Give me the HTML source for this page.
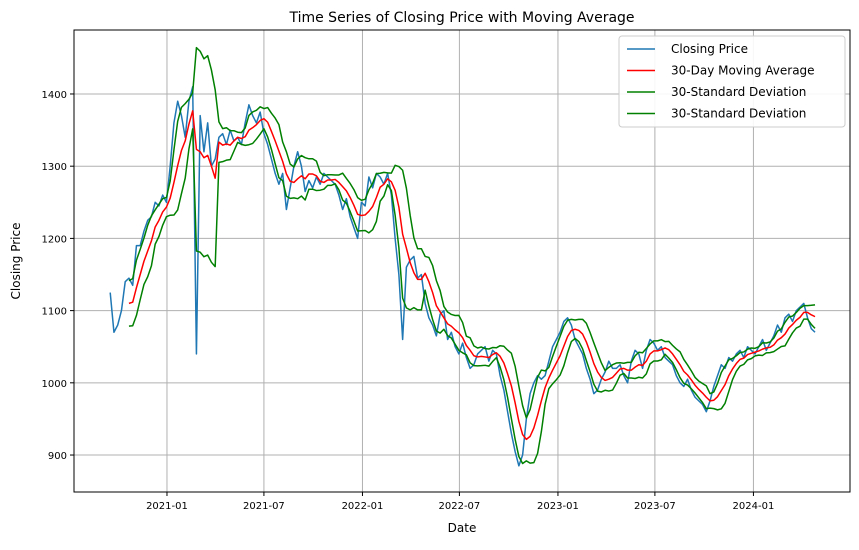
<!DOCTYPE html>
<html><head><meta charset="utf-8"><style>
body{margin:0;background:#fff;font-family:"Liberation Sans","DejaVu Sans",sans-serif}
svg text{font-family:"DejaVu Sans","Liberation Sans",sans-serif}
</style></head><body>
<svg id="chart" width="859" height="545" xmlns="http://www.w3.org/2000/svg"></svg>
<script>
const startDate = "2020-09-17";
const closePrices = [1125,1070,1080,1100,1140,1145,1135,1190,1190,1210,
1225,1230,1250,1245,1260,1250,1300,1360,1390,1370,
1340,1390,1410,1040,1370,1320,1360,1300,1310,1340,
1345,1330,1350,1335,1340,1330,1360,1385,1370,1360,
1375,1345,1330,1310,1290,1275,1290,1240,1270,1300,
1320,1300,1265,1280,1270,1285,1275,1290,1285,1280,
1275,1260,1240,1255,1230,1215,1200,1250,1245,1285,
1270,1290,1285,1275,1290,1260,1200,1150,1060,1160,
1170,1175,1145,1150,1110,1090,1080,1065,1095,1100,
1060,1070,1050,1040,1055,1035,1020,1025,1040,1045,
1050,1030,1045,1040,1010,990,960,930,905,885,
900,950,985,1000,1010,1005,1010,1030,1050,1060,
1070,1085,1090,1080,1060,1050,1040,1020,1005,985,
990,1005,1015,1030,1020,1020,1025,1010,1000,1030,
1045,1040,1020,1045,1060,1055,1045,1050,1035,1030,
1025,1010,1000,995,1005,990,980,975,970,960,
975,995,1010,1025,1020,1035,1030,1040,1045,1035,
1050,1045,1040,1050,1060,1045,1055,1065,1080,1070,
1090,1095,1085,1100,1105,1110,1090,1075,1070];
const windowSize = 6;
const yTicks = [900,1000,1100,1200,1300,1400];
const xTickLabels = ["2021-01","2021-07","2022-01","2022-07","2023-01","2023-07","2024-01"];

const svg = document.getElementById('chart');
const NS = "http://www.w3.org/2000/svg";
const L=74,R=850,T=30,B=492;
const day0 = Date.parse("2021-01-01");
const xMinDays=-173.6, xMaxDays=1275.3;
const yMin=848.8, yMax=1488.6;
function xs(ms){const d=(ms-day0)/86400000;return L+(d-xMinDays)/(xMaxDays-xMinDays)*(R-L);}
function ys(v){return B-(v-yMin)/(yMax-yMin)*(B-T);}
function mk(tag,attrs,parent){const e=document.createElementNS(NS,tag);for(const k in attrs)e.setAttribute(k,attrs[k]);(parent||svg).appendChild(e);return e;}

const t0=Date.parse(startDate);
const dates=closePrices.map((_,i)=>t0+i*7*86400000);
const ma=[],up=[],lo=[];
for(let i=0;i<closePrices.length;i++){
  if(i<windowSize-1){ma.push(null);up.push(null);lo.push(null);continue;}
  const w=closePrices.slice(i-windowSize+1,i+1);
  const m=w.reduce((a,b)=>a+b,0)/w.length;
  const s=Math.sqrt(w.reduce((a,b)=>a+(b-m)*(b-m),0)/(w.length-1));
  ma.push(m);up.push(m+s);lo.push(m-s);
}

// grid
const grid=mk('g',{});


yTicks.forEach(v=>{
  const y=ys(v);
  const gl=mk('line',{x1:L,x2:R,y1:y,y2:y,stroke:'#b0b0b0','stroke-width':1},grid);
  
  
  mk('line',{x1:L-4,x2:L,y1:y,y2:y,stroke:'#000'});
  const t=mk('text',{x:L-7,y:y+4,'text-anchor':'end','font-size':10});
  t.textContent=v;
  
  
});
xTickLabels.forEach(lbl=>{
  const x=xs(Date.parse(lbl+"-01"));
  const gl=mk('line',{x1:x,x2:x,y1:T,y2:B,stroke:'#b0b0b0','stroke-width':1},grid);
  
  
  mk('line',{x1:x,x2:x,y1:B,y2:B+4,stroke:'#000'});
  const t=mk('text',{x:x,y:B+17,'text-anchor':'middle','font-size':10});
  t.textContent=lbl;
  
  
});

function line(vals,color,name,w){
  let d='';let started=false;
  vals.forEach((v,i)=>{if(v==null)return;d+=(started?'L':'M')+xs(dates[i]).toFixed(2)+','+ys(v).toFixed(2);started=true;});
  const p=mk('path',{d:d,fill:'none',stroke:color,'stroke-width':w||1.5,'stroke-linejoin':'round'});
  
  
}
line(closePrices,'#1f77b4','closing-price-line');
line(ma,'#ff0000','moving-average-line');
line(up,'#008000','upper-std-band');
line(lo,'#008000','lower-std-band');

const frame=mk('rect',{x:L,y:T,width:R-L,height:B-T,fill:'none',stroke:'#000','stroke-width':1});



const title=mk('text',{x:(L+R)/2,y:22,'text-anchor':'middle','font-size':14});
title.textContent='Time Series of Closing Price with Moving Average';


const xl=mk('text',{x:(L+R)/2,y:532,'text-anchor':'middle','font-size':12});
xl.textContent='Date';


const yl=mk('text',{x:0,y:0,'text-anchor':'middle','font-size':12,transform:'translate(20,'+((T+B)/2)+') rotate(-90)'});
yl.textContent='Closing Price';



// legend
const lg=mk('g',{});


mk('rect',{x:619,y:36,width:226,height:91,rx:3,fill:'#fff',stroke:'#ccc','fill-opacity':0.9},lg);
const entries=[['Closing Price','#1f77b4'],['30-Day Moving Average','#ff0000'],['30-Standard Deviation','#008000'],['30-Standard Deviation','#008000']];
entries.forEach((e,i)=>{
  const y=49+i*21.5;
  const g=mk('g',{},lg);
  
  
  mk('line',{x1:627,x2:655,y1:y,y2:y,stroke:e[1],'stroke-width':1.5},g);
  const t=mk('text',{x:671,y:y+4,'font-size':12},g);
  t.textContent=e[0];
});
</script>
</body></html>
